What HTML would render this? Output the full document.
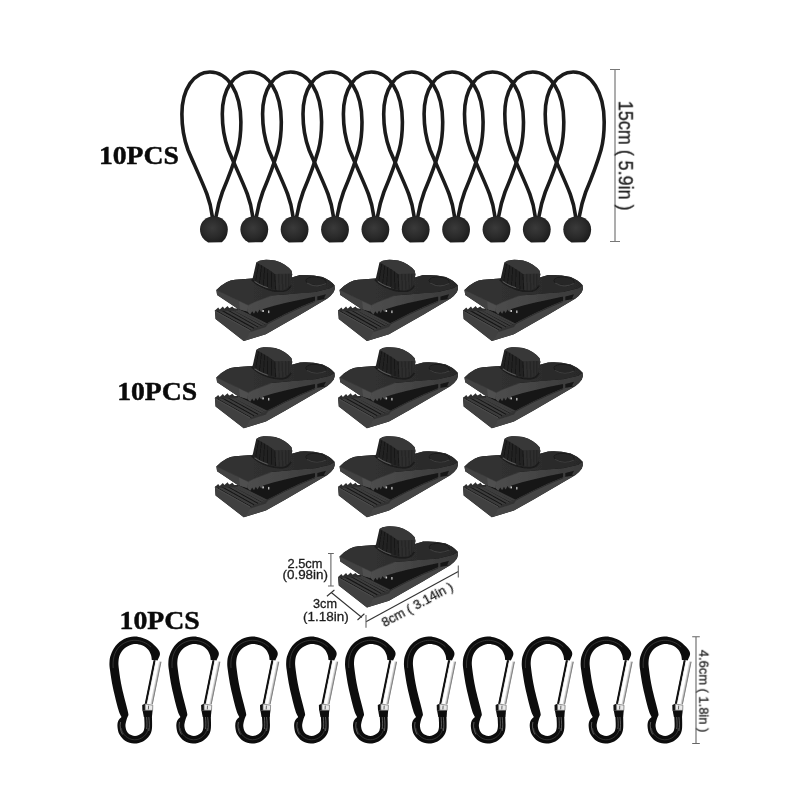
<!DOCTYPE html>
<html lang="en">
<head>
<meta charset="utf-8">
<title>10PCS tarp clips, bungee balls and carabiners</title>
<style>
html,body{margin:0;padding:0;background:#fff;}
body{width:800px;height:800px;overflow:hidden;}
svg{display:block;}
text{filter:url(#noop);}
.pcs{font-family:"Liberation Serif",serif;font-weight:bold;font-size:25.8px;fill:#0a0a0a;stroke:#0a0a0a;stroke-width:0.45px;}
.dim{font-family:"Liberation Sans",sans-serif;fill:#1c1c1c;stroke:#1c1c1c;stroke-width:0.3px;}
</style>
</head>
<body>
<svg width="800" height="800" viewBox="0 0 800 800">
<defs>
  <filter id="soft" x="-5%" y="-5%" width="110%" height="110%"><feGaussianBlur stdDeviation="0.45"/></filter>
  <filter id="noop" x="-20%" y="-20%" width="140%" height="140%"><feOffset dx="0" dy="0"/></filter>
  <radialGradient id="ballg" cx="0.45" cy="0.45" r="0.6">
    <stop offset="0" stop-color="#3a3a3a"/>
    <stop offset="0.6" stop-color="#2a2a2a"/>
    <stop offset="1" stop-color="#1c1c1c"/>
  </radialGradient>
  <!-- bungee cord: origin = ball centre -->
  <g id="cord">
    <path d="M -1.5,-12 C -2.5,-20 -4,-27 -7,-35 C -12,-48 -20,-65 -25.9,-79 C -30,-90 -32,-102 -32,-115 C -32,-140 -20,-157 -4,-157 C 14,-157 27,-137 27,-107 C 27,-96 26,-87 23.8,-79 C 20,-66 14,-50 8.5,-37 C 5.5,-29 3.5,-21 2,-12" fill="none" stroke="#1b1b1b" stroke-width="3.6" stroke-linecap="round"/>
    <path d="M -13.9,0.3 C -13.9,-7.5 -7.5,-12.8 0,-12.8 C 7.5,-12.8 13.9,-7.5 13.9,0.3 C 13.9,6 11.5,10.6 8,13.2 L -5.8,13.4 C -10.5,11 -13.9,6.3 -13.9,0.3 Z" fill="url(#ballg)"/>
  </g>

  <linearGradient id="gateg" gradientUnits="userSpaceOnUse" x1="149.6" y1="681.9" x2="156.9" y2="683.4">
    <stop offset="0" stop-color="#222"/>
    <stop offset="0.15" stop-color="#222"/>
    <stop offset="0.22" stop-color="#d8d8d8"/>
    <stop offset="0.6" stop-color="#ffffff"/>
    <stop offset="1" stop-color="#9a9a9a"/>
  </linearGradient>
  <!-- carabiner: absolute coords of first one -->
  <g id="carab">
    <path d="M157.50,660.50 C157.92,659.42 160.00,656.00 160.00,654.00 C160.00,652.00 159.17,650.58 157.50,648.50 C155.83,646.42 152.58,643.28 150.00,641.50 C147.42,639.72 144.67,638.63 142.00,637.80 C139.33,636.97 137.00,636.30 134.00,636.50 C131.00,636.70 127.08,637.42 124.00,639.00 C120.92,640.58 117.70,643.33 115.50,646.00 C113.30,648.67 111.80,652.33 110.80,655.00 C109.80,657.67 109.63,659.50 109.50,662.00 C109.37,664.50 109.42,665.67 110.00,670.00 C110.58,674.33 111.58,681.33 113.00,688.00 C114.42,694.67 117.08,705.17 118.50,710.00 C119.92,714.83 121.00,715.83 121.50,717.00 C120.95,717.67 118.87,719.33 118.20,721.00 C117.53,722.67 117.28,724.75 117.50,727.00 C117.72,729.25 118.17,732.17 119.50,734.50 C120.83,736.83 123.08,739.48 125.50,741.00 C127.92,742.52 131.08,743.52 134.00,743.60 C136.92,743.68 140.42,742.85 143.00,741.50 C145.58,740.15 148.00,737.75 149.50,735.50 C151.00,733.25 151.62,731.75 152.00,728.00 C152.38,724.25 151.83,715.50 151.80,713.00 L144.00,713.50 C144.08,715.75 144.83,723.75 144.50,727.00 C144.17,730.25 143.58,731.50 142.00,733.00 C140.42,734.50 137.33,736.00 135.00,736.00 C132.67,736.00 129.58,734.58 128.00,733.00 C126.42,731.42 125.75,728.67 125.50,726.50 C125.25,724.33 126.00,721.92 126.50,720.00 C127.00,718.08 128.17,715.83 128.50,715.00 C128.33,714.17 128.58,714.50 127.50,710.00 C126.42,705.50 123.42,694.67 122.00,688.00 C120.58,681.33 119.58,674.50 119.00,670.00 C118.42,665.50 118.25,663.75 118.50,661.00 C118.75,658.25 119.25,655.78 120.50,653.50 C121.75,651.22 123.75,648.88 126.00,647.30 C128.25,645.72 131.33,644.33 134.00,644.00 C136.67,643.67 139.67,644.38 142.00,645.30 C144.33,646.22 146.50,647.88 148.00,649.50 C149.50,651.12 150.37,653.25 151.00,655.00 C151.63,656.75 151.67,659.17 151.80,660.00 Z" fill="#0d0d0d"/>
    <path d="M 113.2,668 C 112.6,660 114,652 119.5,646.5 C 124,642.2 130,640.3 135,640.3 C 141,640.4 147,643 151,647" fill="none" stroke="#3c3c3c" stroke-width="0.8"/>
    <path d="M 121.3,728 C 122,734 127.5,739.6 134.6,739.8 C 141.5,739.8 147.6,735 148.2,728" fill="none" stroke="#3c3c3c" stroke-width="0.8"/>
    <path d="M 145.4,702.8 L 152.6,704.3 L 161.2,661.8 L 154,660.3 Z" fill="url(#gateg)"/>
    <path d="M 145.7,704 L 154.5,660.4" stroke="#111" stroke-width="1.9" fill="none"/>
    <path d="M 148.9,703.5 L 157.5,661.1" stroke="#fff" stroke-width="2.6" fill="none"/>
    <path d="M 152.3,704.2 L 161,661.8" stroke="#7d7d7d" stroke-width="0.9" fill="none"/>
    <path d="M 142.2,705 L 145.4,703.6 L 145.6,710.6 L 142.4,710.8 Z" fill="#111"/>
    <path d="M 145.2,704 L 152.8,705.2 L 152.6,710.4 L 145.2,710.2 Z" fill="#e9e9e9" stroke="#6a6a6a" stroke-width="0.7"/>
    <path d="M 148.6,705.6 L 148.4,709.4" stroke="#555" stroke-width="0.9" fill="none"/>
    <path d="M 142.6,710.4 L 152.6,710.4 L 151.9,717 L 143.8,717 Z" fill="#0d0d0d"/>
    <path d="M 146.6,717 C 147,722 147.2,726 146.6,729 M 148.8,717 C 149.4,722 149.6,727 148.8,731" fill="none" stroke="#8c8c8c" stroke-width="0.6"/>
    <path d="M 120.6,722 C 119.6,726 120.4,731 122.6,734.5" fill="none" stroke="#8c8c8c" stroke-width="0.6"/>
  </g>

  <linearGradient id="bandg" gradientUnits="userSpaceOnUse" x1="38" y1="0" x2="125" y2="0">
    <stop offset="0" stop-color="#4d4d4d"/>
    <stop offset="0.45" stop-color="#444"/>
    <stop offset="1" stop-color="#393939"/>
  </linearGradient>
  <linearGradient id="topg" gradientUnits="userSpaceOnUse" x1="6" y1="0" x2="125" y2="0">
    <stop offset="0" stop-color="#333"/>
    <stop offset="0.5" stop-color="#2e2e2e"/>
    <stop offset="1" stop-color="#282828"/>
  </linearGradient>
  <!-- clip: local origin = (210,250) of the first clip -->
  <g id="clip">
    <!-- whole silhouette in interior dark colour -->
    <path d="M6.4,40 L11,35.8 L16.5,32.3 Q20.5,30.2 25,29.8 L45,28.3 L81.75,27.4 L90,25.1 Q101,24.3 112.5,27 Q120,30 124.5,35.25 Q125.4,38.5 123.75,42 Q121,46 117,48.8 L90,64.7 L75,73.3 L55.8,84.2 L33.75,90.9 L5.6,69 L4.9,60.4 L27.75,58.7 L7.1,44.9 Z" fill="#171717"/>
    <!-- lower arm side face -->
    <path d="M56,73.8 L75,64 L90,57 L105,50.8 L117,48.8 L90,64.7 L75,73.3 L55.8,84.2 L33.75,90.9 L40.5,80.3 Z" fill="#454545"/>
    <path d="M56,74.6 L75,64.8 L90,57.8 L105,51.5" fill="none" stroke="#2a2a2a" stroke-width="0.9"/>
    <!-- lower jaw ridged surface -->
    <path d="M4.9,60.4 L27.75,58.7 L38,62 L58,73.5 L40.5,80.3 Z" fill="#171717"/>
    <g stroke="#3e3e3e" stroke-width="2.1" fill="none">
      <path d="M8.8,60.6 L43,79.6"/>
      <path d="M13.4,59.4 L47,78.2"/>
      <path d="M18,58.6 L50.8,76.8"/>
      <path d="M22.7,58.8 L54.3,75.6"/>
      <path d="M27.5,59.6 L57.5,74.6"/>
    </g>
    <path d="M4.9,60.6 L8.2,57.6 L9.7,59.6 L12.9,56.6 L14.4,58.7 L17.6,55.9 L19.2,58.3 L22.4,56.4 L24,58.6 L27.75,58.7 L27.75,60.5 L4.9,61.6 Z" fill="#2e2e2e"/>
    <path d="M43,79.6 L44.8,77.2 L47,78.2 L48.6,75.8 L50.8,76.8 L52.3,74.6 L54.3,75.6 L55.6,73.6 L58,73.5 L56,77 L40.5,82 L40.5,80.3 Z" fill="#333"/>
    <!-- lower jaw front face -->
    <path d="M4.9,60.4 L40.5,80.3 L37.5,87.5 L33.75,90.9 L5.6,69 Z" fill="#414141"/>
    <path d="M5.1,61.2 L40,80.6" stroke="#4d4d4d" stroke-width="0.9" fill="none"/>
    <!-- upper arm side face band -->
    <path d="M37.9,54.4 L44.8,51.8 L61.3,45.5 L75,44.4 L85,43.4 L105,41.9 L120,38.25 L124.6,35.6 Q125.4,38.5 123.75,42 Q121,46 117,48.8 L114,48.4 L115.9,44.25 L107.25,46.5 L107.25,51 L105,51.8 L105,46.5 L90,49.7 L75,53.1 L63.1,56 L53.1,59 L51.2,62 L49.4,59.6 L47.6,63 L45.8,60.4 L44,63.8 L42.2,61.2 L40.2,64.4 L37.3,61.5 Z" fill="url(#bandg)"/>
    <!-- upper jaw front face -->
    <path d="M6.4,40 L38.25,55 L37.3,61.5 L27.75,58.7 L7.1,44.9 Z" fill="#434343"/>
    <path d="M29,50.8 L38.25,55 L37.3,61.5 L30,59.4 Z" fill="#505050"/>
    <!-- upper jaw / arm top surface -->
    <path d="M6.4,40 L11,35.8 L16.5,32.3 Q20.5,30.2 25,29.8 L45,28.3 L81.75,27.4 L90,25.1 Q101,24.3 112.5,27 Q120,30 124.5,35.25 L124.6,35.6 L120,38.25 L105,41.9 L85,43.4 L75,44.4 L61.3,45.5 L44.8,51.8 L38.25,55 Z" fill="url(#topg)"/>
    <path d="M6.6,40.3 L38.25,55.2 L44.8,52 L61.3,45.8" stroke="#3d3d3d" stroke-width="0.8" fill="none"/>
    <!-- hole -->
    <ellipse cx="106" cy="31.3" rx="10.2" ry="4.3" fill="#262626" stroke="#1c1c1c" stroke-width="0.9" transform="rotate(5 106 31.3)"/>
    <path d="M97,33 Q106,38.5 116,33.6" fill="none" stroke="#3f3f3f" stroke-width="1.1"/>
    <!-- spring highlight -->
    <rect x="52.3" y="60" width="1.6" height="2" fill="#c8c8c8"/>
    <rect x="58" y="60.5" width="1.4" height="2.6" fill="#b5b5b5"/>
    <!-- knob -->
    <path d="M41.8,29.6 Q46,34 51,36.4 Q57,39.6 63,40.6 Q69,41.6 74,41 Q79,40 81,35.5" fill="none" stroke="#1a1a1a" stroke-width="1.6"/>
    <path d="M42.5,29 L46.25,12.5 Q49,10.2 53.75,9.9 Q59,9.6 65,10.6 Q70.5,12 74.75,14.75 Q79,17.5 81.5,20.75 L82.25,24.5 L80,35 Q77.5,39.5 72.5,40.25 Q67,40.3 61.25,38.75 Q55,37 50,34.25 Q45.5,32 42.5,29 Z" fill="#242424"/>
    <path d="M65,24.1 L80.75,23.75 L82.25,24.5 L80,35 Q77.5,39.5 72.5,40.25 Q68,40.3 65,39.7 Z" fill="#2d2d2d"/>
    <path d="M46.25,12.5 Q49,10.2 53.75,9.9 Q59,9.6 65,10.6 Q70.5,12 74.75,14.75 Q79,17.5 81.5,20.75 L82.25,24.5 L80.75,23.75 L65,24.1 Q59,19.5 54.5,17 Q50,14.2 46.25,12.5 Z" fill="#383838"/>
    <g stroke="#151515" stroke-width="0.9" fill="none">
      <path d="M48.6,13.8 L45.6,31.6"/>
      <path d="M51.6,15.4 L49.4,33.8"/>
      <path d="M54.6,17.2 L53.4,35.8"/>
      <path d="M57.8,19.2 L57.6,37.4"/>
      <path d="M61.2,21.6 L61.8,38.8"/>
      <path d="M64.8,24 L65.6,39.8"/>
    </g>
    <g stroke="#222" stroke-width="0.7" fill="none">
      <path d="M68.5,24.1 L69.3,40.2 M72,24 L72.8,40.1 M75.5,23.9 L76,39.2 M78.6,23.8 L78.6,37.2"/>
    </g>
    <path d="M44.6,31.4 Q49.5,35.2 57.8,37.8" fill="none" stroke="#575757" stroke-width="1.1"/>
  </g>
</defs>
<rect width="800" height="800" fill="#fff"/>

<!-- bungee cords -->
<g id="cords">
  <use href="#cord" x="213.9" y="229"/>
  <use href="#cord" x="254.3" y="229"/>
  <use href="#cord" x="294.6" y="229"/>
  <use href="#cord" x="335" y="229"/>
  <use href="#cord" x="375.4" y="229"/>
  <use href="#cord" x="415.7" y="229"/>
  <use href="#cord" x="456.1" y="229"/>
  <use href="#cord" x="496.5" y="229"/>
  <use href="#cord" x="536.8" y="229"/>
  <use href="#cord" x="577.2" y="229"/>
</g>

<text class="pcs" x="98.9" y="163.6" textLength="80" lengthAdjust="spacingAndGlyphs">10PCS</text>
<text class="pcs" x="117.2" y="400.1" textLength="80" lengthAdjust="spacingAndGlyphs">10PCS</text>
<text class="pcs" x="119.5" y="629.1" textLength="80.3" lengthAdjust="spacingAndGlyphs">10PCS</text>

<!-- bungee dimension -->
<g stroke="#777" stroke-width="1.2" fill="none">
  <path d="M615,69.5 V241.5 M610,69.5 H620 M610,241.5 H620"/>
</g>
<text class="dim" font-size="19.6" transform="translate(618.8,100.8) rotate(90)" textLength="109.8" lengthAdjust="spacingAndGlyphs">15cm ( 5.9in )</text>



<!-- clips -->
<g id="clips" filter="url(#soft)">
  <use href="#clip" x="210.0" y="250.0"/>
  <use href="#clip" x="333.2" y="250.0"/>
  <use href="#clip" x="458.1" y="250.0"/>
  <use href="#clip" x="210.0" y="337.4"/>
  <use href="#clip" x="333.2" y="337.4"/>
  <use href="#clip" x="458.1" y="337.4"/>
  <use href="#clip" x="210.0" y="426.4"/>
  <use href="#clip" x="333.2" y="426.4"/>
  <use href="#clip" x="458.1" y="426.4"/>
  <use href="#clip" x="333.2" y="516.5"/>
</g>

<!-- clip dimensions -->
<g fill="none">
  <path stroke="#666" stroke-width="1.1" d="M330.9,553.5 V586 M328,553.5 H333.8 M328,586 H333.8"/>
  <path stroke="#333" stroke-width="1.1" d="M331.25,592.5 L361.9,617.5 M326.9,596.25 L334.4,590 M357.5,620 L364.4,613.75"/>
  <path stroke="#333" stroke-width="1.1" d="M366,621.75 L458.3,571.5"/>
  <path stroke="#666" stroke-width="1.1" d="M366,615 V627.75 M458.3,565.5 V577.5"/>
</g>
<text class="dim" font-size="12.8" x="287.5" y="567.5" textLength="35" lengthAdjust="spacingAndGlyphs">2.5cm</text>
<text class="dim" font-size="12.8" x="282.5" y="579.4" textLength="45.5" lengthAdjust="spacingAndGlyphs">(0.98in)</text>
<text class="dim" font-size="12.8" x="313" y="608" textLength="24" lengthAdjust="spacingAndGlyphs">3cm</text>
<text class="dim" font-size="12.8" x="303" y="620.6" textLength="45.7" lengthAdjust="spacingAndGlyphs">(1.18in)</text>
<text class="dim" font-size="13.2" transform="translate(384.6,627.2) rotate(-28.6)" textLength="79" lengthAdjust="spacingAndGlyphs">8cm ( 3.14in )</text>
<!-- carabiners -->
<g id="carabs">
  <use href="#carab" x="0.0" y="0"/>
  <use href="#carab" x="58.9" y="0"/>
  <use href="#carab" x="117.8" y="0"/>
  <use href="#carab" x="176.7" y="0"/>
  <use href="#carab" x="235.6" y="0"/>
  <use href="#carab" x="294.5" y="0"/>
  <use href="#carab" x="353.4" y="0"/>
  <use href="#carab" x="412.3" y="0"/>
  <use href="#carab" x="471.2" y="0"/>
  <use href="#carab" x="530.1" y="0"/>
</g>

<!-- carabiner dimension -->
<g stroke="#666" stroke-width="1.1" fill="none">
  <path d="M696,636.7 V743.5 M692.2,636.7 H699.8 M692.2,743.5 H699.8"/>
</g>
<text class="dim" font-size="13.2" transform="translate(699.4,649.8) rotate(90)" textLength="82.5" lengthAdjust="spacingAndGlyphs">4.6cm ( 1.8in )</text>
</svg>
</body>
</html>
